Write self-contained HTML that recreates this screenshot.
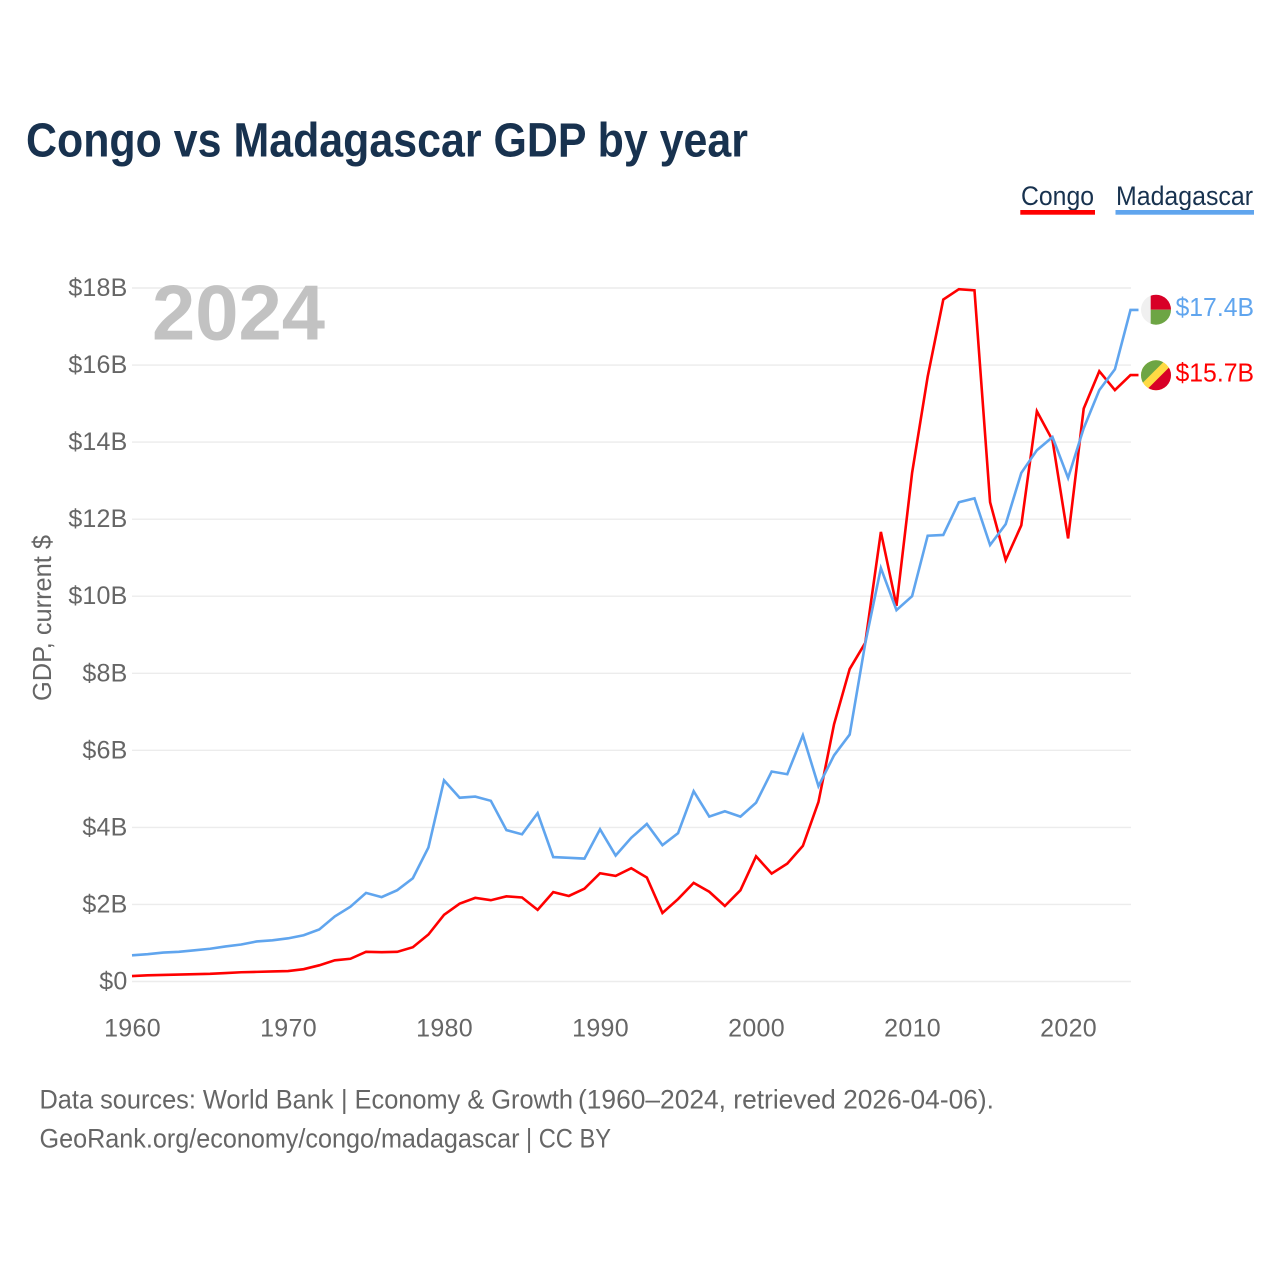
<!DOCTYPE html>
<html lang="en">
<head>
<meta charset="utf-8">
<title>Congo vs Madagascar GDP by year</title>
<style>
html,body{margin:0;padding:0;background:#fff;}
svg{display:block;}
text{font-family:"Liberation Sans",sans-serif;}
</style>
</head>
<body>
<svg id="chart" width="1280" height="1280" viewBox="0 0 1280 1280" xmlns="http://www.w3.org/2000/svg">
  <rect x="0" y="0" width="1280" height="1280" fill="#ffffff"/>
  <text x="26" y="156.5" font-size="48" font-weight="700" fill="#18324f" textLength="722" lengthAdjust="spacingAndGlyphs">Congo vs Madagascar GDP by year</text>

  <g>
    <text x="1021" y="205" font-size="26.5" fill="#18324f" textLength="73" lengthAdjust="spacingAndGlyphs">Congo</text>
    <rect x="1020.3" y="210" width="74.7" height="4.7" fill="#ff0000"/>
  </g>
  <g>
    <text x="1116" y="205" font-size="26.5" fill="#18324f" textLength="137" lengthAdjust="spacingAndGlyphs">Madagascar</text>
    <rect x="1115.5" y="210" width="138.5" height="4.7" fill="#60a5ee"/>
  </g>

  <g id="grid"></g>
  <text x="152" y="339.5" font-size="78" font-weight="700" fill="#c2c2c2" textLength="173" lengthAdjust="spacingAndGlyphs">2024</text>
  <g id="yTicks"></g>
  <g id="xTicks"></g>
  <text transform="translate(51,701) rotate(-90)" x="0" y="0" font-size="26" fill="#666666" textLength="166" lengthAdjust="spacingAndGlyphs">GDP, current $</text>
  <g id="series"></g>

  <defs>
    <clipPath id="clip-mg"><circle cx="1156" cy="309.7" r="15"/></clipPath>
    <clipPath id="clip-cg"><circle cx="1156" cy="375.3" r="15"/></clipPath>
  </defs>
  <g clip-path="url(#clip-mg)">
    <rect x="1141" y="294" width="10" height="32" fill="#f0f0f0"/>
    <rect x="1150.7" y="294" width="21" height="15.7" fill="#d80027"/>
    <rect x="1150.7" y="309.7" width="21" height="16" fill="#6da544"/>
  </g>
  <g clip-path="url(#clip-cg)">
    <rect x="1140" y="359" width="32" height="32" fill="#ffda44"/>
    <polygon points="1140,359 1166.5,359 1140,385.5" fill="#6da544"/>
    <polygon points="1172,391 1145.5,391 1172,364.5" fill="#d80027"/>
  </g>
  <text x="1175.5" y="316" font-size="26" fill="#60a5ee" textLength="78.5" lengthAdjust="spacingAndGlyphs">$17.4B</text>
  <text x="1175.5" y="381.5" font-size="26" fill="#ff0000" textLength="78.5" lengthAdjust="spacingAndGlyphs">$15.7B</text>

  <text y="1108.5" font-size="26.5" fill="#666666"><tspan x="39.5" textLength="294" lengthAdjust="spacingAndGlyphs">Data sources: World Bank</tspan> <tspan x="341" textLength="232" lengthAdjust="spacingAndGlyphs">| Economy &amp; Growth</tspan> <tspan x="578" textLength="416" lengthAdjust="spacingAndGlyphs">(1960–2024, retrieved 2026-04-06).</tspan></text>
  <text y="1147.5" font-size="26.5" fill="#666666"><tspan x="39.5" textLength="480" lengthAdjust="spacingAndGlyphs">GeoRank.org/economy/congo/madagascar</tspan> <tspan x="526" textLength="85" lengthAdjust="spacingAndGlyphs">| CC BY</tspan></text>
</svg>
<script>
const years = [1960,1961,1962,1963,1964,1965,1966,1967,1968,1969,1970,1971,1972,1973,1974,1975,1976,1977,1978,1979,1980,1981,1982,1983,1984,1985,1986,1987,1988,1989,1990,1991,1992,1993,1994,1995,1996,1997,1998,1999,2000,2001,2002,2003,2004,2005,2006,2007,2008,2009,2010,2011,2012,2013,2014,2015,2016,2017,2018,2019,2020,2021,2022,2023,2024];
const congoGdp = [0.14,0.16,0.17,0.18,0.19,0.20,0.22,0.24,0.25,0.26,0.27,0.32,0.42,0.55,0.59,0.77,0.76,0.77,0.89,1.22,1.73,2.02,2.17,2.11,2.21,2.18,1.86,2.32,2.22,2.41,2.81,2.74,2.94,2.70,1.78,2.14,2.56,2.33,1.96,2.37,3.25,2.80,3.06,3.52,4.66,6.68,8.11,8.79,11.67,9.75,13.2,15.7,17.7,17.97,17.94,12.44,10.94,11.84,14.8,14.05,11.5,14.87,15.84,15.35,15.74];
const madagascarGdp = [0.68,0.71,0.75,0.77,0.81,0.85,0.91,0.96,1.04,1.07,1.12,1.20,1.35,1.69,1.94,2.30,2.19,2.37,2.68,3.48,5.22,4.77,4.80,4.69,3.93,3.82,4.37,3.23,3.21,3.19,3.95,3.27,3.73,4.09,3.54,3.85,4.94,4.28,4.42,4.28,4.64,5.45,5.38,6.39,5.07,5.87,6.41,8.78,10.73,9.64,10.0,11.57,11.59,12.44,12.54,11.33,11.87,13.2,13.79,14.13,13.07,14.36,15.35,15.89,17.43];
const yTickValues = [0,2,4,6,8,10,12,14,16,18];
const yTickLabels = ["$0","$2B","$4B","$6B","$8B","$10B","$12B","$14B","$16B","$18B"];
const xTickValues = [1960,1970,1980,1990,2000,2010,2020];

const NS = 'http://www.w3.org/2000/svg';
const xScale = function (year) { return 132 + (year - 1960) * (1130.5 - 132) / 64; };
const yScale = function (v) { return 981.5 - v * (981.5 - 288) / 18; };

const grid = document.getElementById('grid');
const yTicks = document.getElementById('yTicks');
const xTicks = document.getElementById('xTicks');
const seriesGroup = document.getElementById('series');

yTickValues.forEach(function (v, i) {
  const line = document.createElementNS(NS, 'line');
  
  
  line.setAttribute('x1', 132);
  line.setAttribute('x2', 1131);
  line.setAttribute('y1', yScale(v));
  line.setAttribute('y2', yScale(v));
  line.setAttribute('stroke', '#ececec');
  line.setAttribute('stroke-width', 1.4);
  grid.appendChild(line);

  const label = document.createElementNS(NS, 'text');
  
  
  label.setAttribute('x', 127.5);
  label.setAttribute('y', yScale(v) + 8);
  label.setAttribute('text-anchor', 'end');
  label.setAttribute('font-size', 25);
  label.setAttribute('letter-spacing', '0.2');
  label.setAttribute('fill', '#666666');
  label.textContent = yTickLabels[i];
  yTicks.appendChild(label);
});

xTickValues.forEach(function (year) {
  const label = document.createElementNS(NS, 'text');
  
  
  label.setAttribute('x', xScale(year) + 0.5);
  label.setAttribute('y', 1036.5);
  label.setAttribute('text-anchor', 'middle');
  label.setAttribute('font-size', 25);
  label.setAttribute('letter-spacing', '0.3');
  label.setAttribute('fill', '#666666');
  label.textContent = String(year);
  xTicks.appendChild(label);
});

function linePath(values) {
  let d = '';
  values.forEach(function (v, i) {
    d += (i === 0 ? 'M' : 'L') + xScale(years[i]).toFixed(2) + ' ' + yScale(v).toFixed(2);
  });
  return d;
}

const madagascarLine = document.createElementNS(NS, 'path');


madagascarLine.setAttribute('d', linePath(madagascarGdp) + 'h8');
madagascarLine.setAttribute('fill', 'none');
madagascarLine.setAttribute('stroke', '#60a5ee');
madagascarLine.setAttribute('stroke-width', 2.6);
madagascarLine.setAttribute('stroke-linejoin', 'miter');

const congoLine = document.createElementNS(NS, 'path');


congoLine.setAttribute('d', linePath(congoGdp) + 'h8');
congoLine.setAttribute('fill', 'none');
congoLine.setAttribute('stroke', '#ff0000');
congoLine.setAttribute('stroke-width', 2.6);
congoLine.setAttribute('stroke-linejoin', 'miter');

seriesGroup.appendChild(congoLine);
seriesGroup.appendChild(madagascarLine);
</script>
</body>
</html>
